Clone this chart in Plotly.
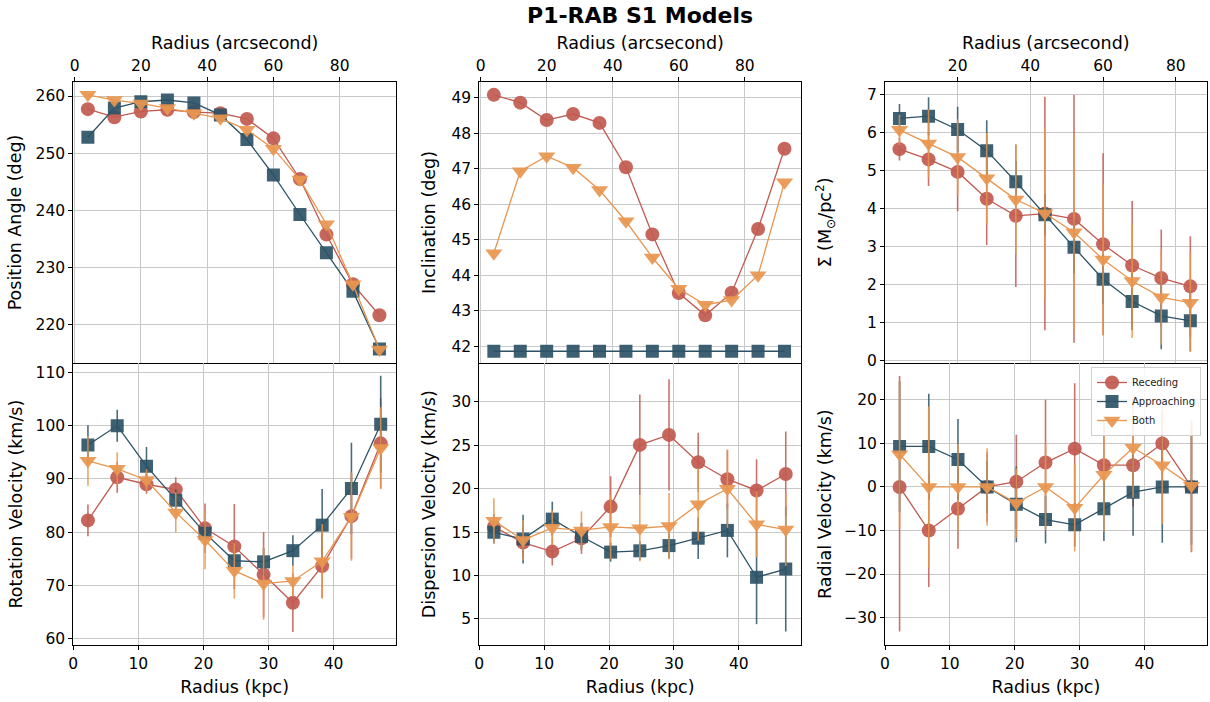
import plotly.graph_objects as go

# ---------------- data ----------------
kpc = [2.25, 6.75, 11.25, 15.75, 20.25, 24.75, 29.25, 33.75, 38.25, 42.75, 47.25]
arcsec12 = [4, 12, 20, 28, 36, 44, 52, 60, 68, 76, 84, 92]
arcsec11 = [4, 12, 20, 28, 36, 44, 52, 60, 68, 76, 84]

# Position angle (deg)
rec_pa = [257.7, 256.3, 257.3, 257.6, 257.2, 257.0, 256.0, 252.6, 245.5, 235.8, 227.1, 221.7]
app_pa = [252.8, 257.9, 259.0, 259.3, 258.8, 256.7, 252.4, 246.2, 239.3, 232.6, 225.9, 215.8]
both_pa = [260.2, 259.3, 258.7, 257.9, 257.0, 256.1, 254.1, 250.8, 245.4, 237.6, 227.1, 215.7]

# Inclination (deg)
rec_inc = [49.08, 48.86, 48.37, 48.54, 48.29, 47.04, 45.15, 43.50, 42.87, 43.51, 45.30, 47.56]
app_inc = [41.86, 41.86, 41.86, 41.86, 41.86, 41.86, 41.86, 41.86, 41.86, 41.86, 41.86, 41.86]
both_inc = [44.62, 46.93, 47.35, 47.03, 46.40, 45.52, 44.50, 43.62, 43.17, 43.30, 44.00, 46.62]

# Surface density
rec_sd = [5.57, 5.30, 4.97, 4.26, 3.81, 3.87, 3.73, 3.06, 2.50, 2.17, 1.95]
app_sd = [6.38, 6.44, 6.09, 5.53, 4.71, 3.84, 2.98, 2.14, 1.55, 1.17, 1.04]
both_sd = [6.08, 5.72, 5.36, 4.80, 4.24, 3.88, 3.38, 2.66, 2.09, 1.66, 1.52]
rec_sd_err = [0.30, 0.70, 1.04, 1.22, 1.88, 3.08, 3.27, 2.40, 1.70, 1.28, 1.32]
app_sd_err = [0.38, 0.50, 0.60, 0.80, 0.55, 0.55, 0.70, 0.65, 0.75, 0.88, 0.80]
both_sd_err = [0.40, 0.90, 1.00, 1.20, 1.45, 2.25, 2.60, 2.00, 1.50, 1.25, 1.30]

# Rotation velocity (km/s)
rec_v = [82.2, 90.3, 89.0, 88.0, 80.7, 77.3, 72.0, 66.7, 73.6, 83.0, 96.7]
app_v = [96.4, 100.0, 92.4, 86.0, 79.8, 74.6, 74.4, 76.5, 81.3, 88.2, 100.3]
both_v = [93.4, 91.9, 89.8, 83.7, 78.5, 72.7, 70.3, 70.8, 74.5, 82.9, 95.8]
rec_v_err = [3.0, 2.9, 1.8, 2.3, 4.7, 8.0, 8.0, 5.5, 6.0, 8.0, 8.5]
app_v_err = [3.7, 3.0, 3.6, 2.0, 2.0, 1.5, 2.6, 2.9, 6.8, 8.6, 9.1]
both_v_err = [4.7, 3.1, 2.0, 3.8, 5.5, 5.2, 6.8, 3.0, 7.0, 8.3, 7.7]

# Dispersion velocity (km/s)
rec_d = [15.6, 13.8, 12.76, 14.3, 17.94, 25.05, 26.2, 23.05, 21.1, 19.8, 21.7]
app_d = [14.98, 14.2, 16.5, 14.5, 12.7, 12.85, 13.45, 14.3, 15.2, 9.8, 10.75]
both_d = [16.3, 14.1, 15.5, 15.2, 15.6, 15.45, 15.7, 18.2, 20.0, 15.9, 15.3]
rec_d_err = [1.5, 1.8, 1.6, 1.8, 3.5, 5.8, 6.4, 3.4, 3.4, 3.6, 4.9]
app_d_err = [1.3, 2.8, 2.0, 1.5, 1.1, 1.1, 1.5, 2.4, 3.1, 5.4, 7.2]
both_d_err = [2.6, 2.3, 2.0, 2.2, 3.7, 3.8, 3.8, 4.2, 4.5, 3.8, 4.2]

# Radial velocity (km/s)
rec_r = [0.0, -10.0, -5.0, 0.0, 1.2, 5.6, 8.8, 5.0, 5.0, 10.0, 0.0]
app_r = [9.3, 9.3, 6.3, 0.0, -4.0, -7.5, -8.7, -5.0, -1.2, 0.0, 0.0]
both_r = [7.5, 0.0, 0.0, 0.0, -3.7, 0.0, -4.8, 2.8, 9.0, 5.0, 0.3]
rec_r_err_plus = [25.5, 13.0, 9.2, 8.0, 10.8, 14.4, 15.0, 10.0, 9.5, 7.0, 15.0]
rec_r_err_minus = [33.2, 13.0, 9.2, 8.0, 10.8, 14.4, 15.0, 10.0, 9.5, 7.0, 15.0]
app_r_err = [15.0, 12.1, 9.3, 6.0, 8.7, 5.5, 5.0, 7.4, 10.0, 12.8, 13.3]
both_r_err = [17.0, 18.5, 10.0, 8.9, 8.0, 10.0, 10.0, 13.0, 11.5, 13.5, 15.0]

series_names = ["Receding", "Approaching", "Both"]

# ---------------- styling ----------------
FONT = "DejaVu Sans"
RED = "#C15A50"
BLUE = "#2C5266"
ORANGE = "#E8964F"
RED_E = "rgba(193,90,80,0.85)"
BLUE_E = "rgba(44,82,102,0.85)"
ORANGE_E = "rgba(232,150,79,0.85)"
colors = [RED, BLUE, ORANGE]
ecolors = [RED_E, BLUE_E, ORANGE_E]
symbols = ["circle", "square", "triangle-down"]
msizes = [14, 13, 15]

W, H = 1210, 702
col_px = [(73.3, 396.0), (479.3, 801.0), (885.0, 1206.7)]
top_px = (81.7, 363.3)
bot_px = (363.3, 645.0)


def xdom(c):
    return [col_px[c][0] / W, col_px[c][1] / W]


def ydom(r):
    a, b = r
    return [1 - b / H, 1 - a / H]


def key(p, n):
    return f"{p}axis" if n == 1 else f"{p}axis{n}"


def ref(p, n):
    return p if n == 1 else f"{p}{n}"


TICKF = dict(family=FONT, size=15.5, color="black")
TITLEF = dict(family=FONT, size=17.5, color="black")
GRID = "#c8c8c8"

fig = go.Figure()

top_data = [
    (arcsec12, [rec_pa, app_pa, both_pa], None),
    (arcsec12, [rec_inc, app_inc, both_inc], None),
    (arcsec11, [rec_sd, app_sd, both_sd], [rec_sd_err, app_sd_err, both_sd_err]),
]
bot_data = [
    ([rec_v, app_v, both_v], [rec_v_err, app_v_err, both_v_err], None),
    ([rec_d, app_d, both_d], [rec_d_err, app_d_err, both_d_err], None),
    ([rec_r, app_r, both_r], [rec_r_err_plus, app_r_err, both_r_err], [rec_r_err_minus, app_r_err, both_r_err]),
]

# axis numbering per column c: arcsec (top, main) = 3c+1, kpc overlay (top panel) = 3c+2, kpc bottom = 3c+3
for c in range(3):
    xs, ys, errs = top_data[c]
    for i in range(3):
        tr = dict(
            x=xs, y=ys[i], mode="lines+markers", name=series_names[i],
            legendgroup=series_names[i], showlegend=False,
            line=dict(color=colors[i], width=1.3),
            marker=dict(symbol=symbols[i], size=msizes[i], color=colors[i], opacity=0.92,
                        line=dict(width=0)),
            xaxis=ref("x", 3 * c + 1), yaxis=ref("y", 2 * c + 1),
        )
        if errs is not None:
            tr["error_y"] = dict(type="data", array=errs[i], visible=True, thickness=1.6,
                                 width=0, color=ecolors[i])
        fig.add_trace(go.Scatter(**tr))

for c in range(3):
    ys, errs, errs_m = bot_data[c]
    for i in range(3):
        ey = dict(type="data", array=errs[i], visible=True, thickness=1.6, width=0, color=ecolors[i])
        if errs_m is not None:
            ey["symmetric"] = False
            ey["arrayminus"] = errs_m[i]
        fig.add_trace(go.Scatter(
            x=kpc, y=ys[i], mode="lines+markers", name=series_names[i],
            legendgroup=series_names[i], showlegend=(c == 2),
            line=dict(color=colors[i], width=1.3),
            marker=dict(symbol=symbols[i], size=msizes[i], color=colors[i], opacity=0.92,
                        line=dict(width=0)),
            error_y=ey,
            xaxis=ref("x", 3 * c + 3), yaxis=ref("y", 2 * c + 2),
        ))

layout = {}
kpc_range = [0, 49.6]
kpc_ticks = [0, 10, 20, 30, 40]
arc_ranges = [[-0.4, 97.0], [-0.4, 97.0], [0.02, 88.5]]
arc_ticks = [[0, 20, 40, 60, 80], [0, 20, 40, 60, 80], [20, 40, 60, 80]]
ytop_ranges = [[213.3, 262.5], [41.52, 49.45], [-0.08, 7.35]]
ytop_dtick = [10, 1, 1]
ytop_titles = ["Position Angle (deg)", "Inclination (deg)", "Σ (M<sub>⊙</sub>/pc<sup>2</sup>)"]
ybot_ranges = [[58.75, 111.76], [2.0, 34.45], [-36.3, 28.4]]
ybot_dtick = [10, 5, 10]
ybot_titles = ["Rotation Velocity (km/s)", "Dispersion Velocity (km/s)", "Radial Velocity (km/s)"]
ytop_stand = [9, 11, 30]
ybot_stand = [8, 11, 8]

common = dict(showline=True, linecolor="black", linewidth=1, mirror=True,
              ticks="outside", ticklen=4, tickwidth=1, tickcolor="black",
              tickfont=TICKF, showgrid=True, gridcolor=GRID, gridwidth=1,
              zeroline=False, automargin=False)

for c in range(3):
    xA, xK, xB = 3 * c + 1, 3 * c + 2, 3 * c + 3
    yT, yB = 2 * c + 1, 2 * c + 2
    layout[key("x", xA)] = dict(common, domain=xdom(c), anchor=ref("y", yT), side="top",
                               range=arc_ranges[c], tickvals=arc_ticks[c],
                               title=dict(text="Radius (arcsecond)", font=TITLEF, standoff=2))
    layout[key("x", xK)] = dict(common, domain=xdom(c), anchor=ref("y", yT), overlaying=ref("x", xA),
                               side="bottom", range=kpc_range, tickvals=kpc_ticks,
                               showticklabels=False, ticks="", showline=False, mirror=False)
    layout[key("x", xB)] = dict(common, domain=xdom(c), anchor=ref("y", yB), range=kpc_range,
                               tickvals=kpc_ticks, mirror=False,
                               title=dict(text="Radius (kpc)", font=TITLEF, standoff=9))
    layout[key("y", yT)] = dict(common, domain=ydom(top_px), anchor=ref("x", xA), range=ytop_ranges[c],
                               dtick=ytop_dtick[c], tick0=0,
                               title=dict(text=ytop_titles[c], font=TITLEF, standoff=ytop_stand[c]))
    layout[key("y", yB)] = dict(common, domain=ydom(bot_px), anchor=ref("x", xB), range=ybot_ranges[c],
                               dtick=ybot_dtick[c], tick0=0,
                               title=dict(text=ybot_titles[c], font=TITLEF, standoff=ybot_stand[c]))

fig.update_layout(
    width=W, height=H,
    margin=dict(l=0, r=0, t=0, b=0),
    paper_bgcolor="white", plot_bgcolor="white",
    font=dict(family=FONT, color="black"),
    title=dict(text="<b>P1-RAB S1 Models</b>", x=0.529, xanchor="center",
               y=1 - 15 / H, yanchor="middle", font=dict(family=FONT, size=22, color="black")),
    legend=dict(x=1201 / W, y=1 - 367 / H, xanchor="right", yanchor="top",
                bgcolor="rgba(255,255,255,0.85)", bordercolor="#d0d0d0", borderwidth=1,
                font=dict(family=FONT, size=10, color="#222"), tracegroupgap=0,
                itemwidth=30, itemsizing="trace"),
    showlegend=True,
    **layout,
)

fig.write_html("out.html")
